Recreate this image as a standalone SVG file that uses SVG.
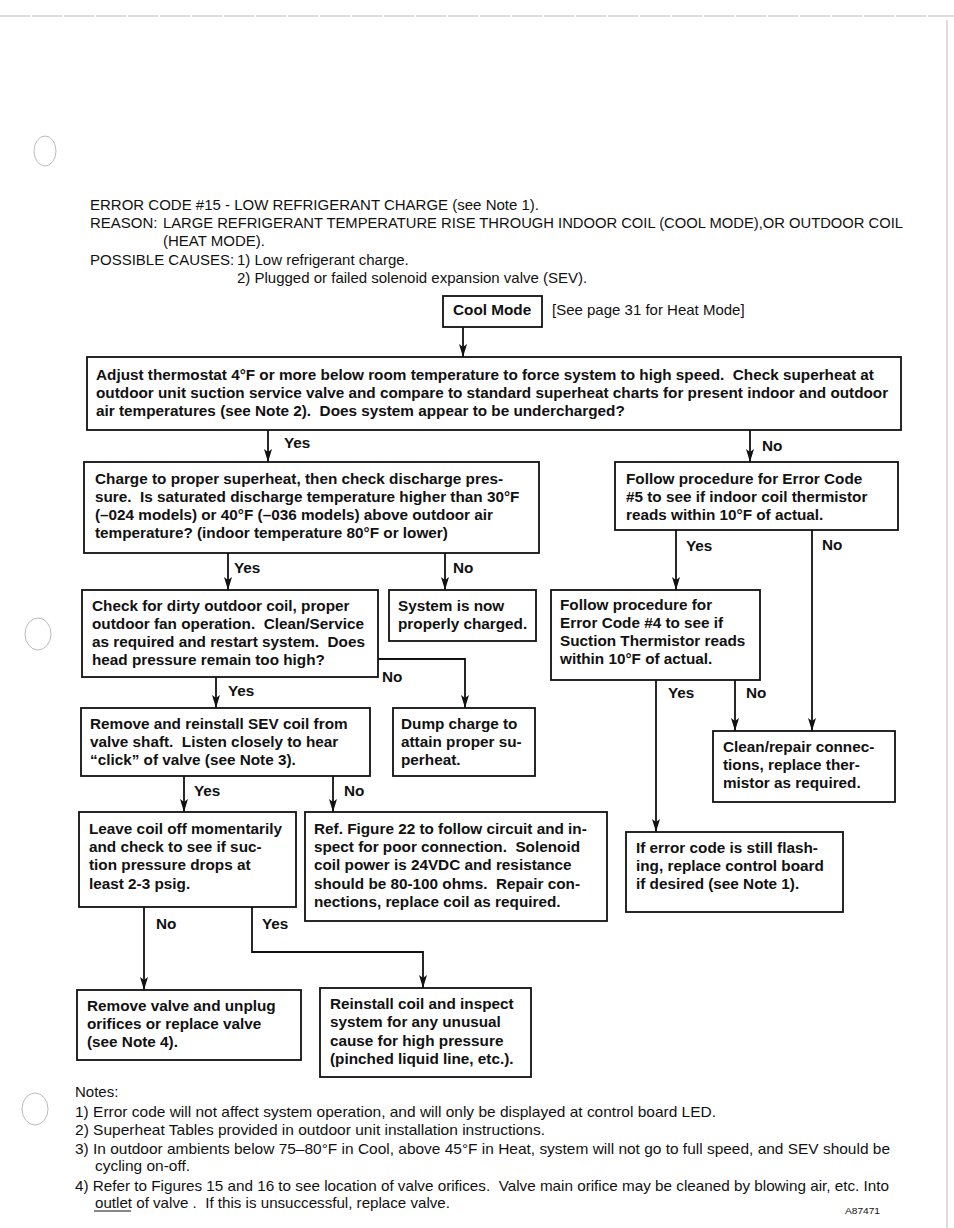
<svg xmlns="http://www.w3.org/2000/svg" width="954" height="1228" viewBox="0 0 954 1228">
<defs>
<marker id="ah" markerWidth="13" markerHeight="8" refX="13" refY="4" orient="auto" markerUnits="userSpaceOnUse" viewBox="0 0 13 8">
<path d="M0,0 L13,4 L0,8 L3,4 Z" fill="#111"/>
</marker>
<style>
.bx{fill:#fff;stroke:#111;stroke-width:1.8}
.t{font-family:"Liberation Sans",Arial,Helvetica,sans-serif;font-weight:bold;font-size:15.3px;fill:#111;white-space:pre}
.h{font-family:"Liberation Sans",Arial,Helvetica,sans-serif;font-size:15px;fill:#111;white-space:pre}
.c{fill:none;stroke:#111;stroke-width:1.8}
.ca{fill:none;stroke:#111;stroke-width:1.8;marker-end:url(#ah)}
.scan{fill:none;stroke:#bbb;stroke-width:1}
</style>
</defs>
<rect width="954" height="1228" fill="#fff"/>
<g id="scan-marks">
<line class="scan" x1="0" y1="16" x2="954" y2="16" stroke-dasharray="30 2"/>
<line class="scan" x1="947" y1="20" x2="947" y2="1228" stroke="#999"/>
<ellipse class="scan" cx="45" cy="151" rx="11" ry="15" stroke="#999"/>
<ellipse class="scan" cx="38" cy="634" rx="13" ry="16" stroke="#999"/>
<ellipse class="scan" cx="35" cy="1109" rx="13" ry="16" stroke="#999"/>
</g>
<g id="header">
<text class="h" x="90" y="210">ERROR CODE #15 - LOW REFRIGERANT CHARGE (see Note 1).</text>
<text class="h" x="90" y="228">REASON:</text>
<text class="h" x="163" y="228" textLength="740" lengthAdjust="spacingAndGlyphs">LARGE REFRIGERANT TEMPERATURE RISE THROUGH INDOOR COIL (COOL MODE),OR OUTDOOR COIL</text>
<text class="h" x="163" y="246">(HEAT MODE).</text>
<text class="h" x="90" y="265">POSSIBLE CAUSES:</text>
<text class="h" x="237" y="265">1) Low refrigerant charge.</text>
<text class="h" x="237" y="283">2) Plugged or failed solenoid expansion valve (SEV).</text>
</g>
<g id="connectors">
<line class="ca" x1="463" y1="327" x2="463" y2="357"/>
<line class="ca" x1="268" y1="430" x2="268" y2="462"/>
<line class="ca" x1="750" y1="430" x2="750" y2="462"/>
<line class="ca" x1="228" y1="553" x2="228" y2="590"/>
<line class="ca" x1="445" y1="553" x2="445" y2="590"/>
<line class="ca" x1="676" y1="530" x2="676" y2="590"/>
<line class="ca" x1="812" y1="530" x2="812" y2="731"/>
<polyline class="ca" points="378,659 465,659 465,708"/>
<line class="ca" x1="216" y1="677" x2="216" y2="708"/>
<line class="ca" x1="656" y1="680" x2="656" y2="832"/>
<line class="ca" x1="735" y1="680" x2="735" y2="731"/>
<line class="ca" x1="184" y1="776" x2="184" y2="812"/>
<line class="ca" x1="333" y1="776" x2="333" y2="812"/>
<line class="ca" x1="144" y1="907" x2="144" y2="990"/>
<polyline class="ca" points="252,907 252,952 423,952 423,988"/>
<text class="t" x="284" y="448">Yes</text>
<text class="t" x="762" y="451">No</text>
<text class="t" x="234" y="573">Yes</text>
<text class="t" x="453" y="573">No</text>
<text class="t" x="686" y="551">Yes</text>
<text class="t" x="822" y="550">No</text>
<text class="t" x="382" y="682">No</text>
<text class="t" x="228" y="696">Yes</text>
<text class="t" x="668" y="698">Yes</text>
<text class="t" x="746" y="698">No</text>
<text class="t" x="194" y="796">Yes</text>
<text class="t" x="344" y="796">No</text>
<text class="t" x="156" y="929">No</text>
<text class="t" x="262" y="929">Yes</text>
</g>
<g id="cool-mode">
<rect class="bx" x="443" y="296" width="99" height="31"/>
<text class="t" x="453" y="315">Cool Mode</text>
<text class="h" x="552" y="315">[See page 31 for Heat Mode]</text>
</g>
<g id="adjust">
<rect class="bx" x="87" y="357" width="814" height="73"/>
<text class="t" x="96" y="380">Adjust thermostat 4°F or more below room temperature to force system to high speed.  Check superheat at</text>
<text class="t" x="96" y="398">outdoor unit suction service valve and compare to standard superheat charts for present indoor and outdoor</text>
<text class="t" x="96" y="416">air temperatures (see Note 2).  Does system appear to be undercharged?</text>
</g>
<g id="charge">
<rect class="bx" x="84" y="462" width="455" height="91"/>
<text class="t" x="95" y="484">Charge to proper superheat, then check discharge pres-</text>
<text class="t" x="95" y="502">sure.  Is saturated discharge temperature higher than 30°F</text>
<text class="t" x="95" y="520">(–024 models) or 40°F (–036 models) above outdoor air</text>
<text class="t" x="95" y="538">temperature? (indoor temperature 80°F or lower)</text>
</g>
<g id="code5">
<rect class="bx" x="615" y="462" width="283" height="68"/>
<text class="t" x="626" y="484">Follow procedure for Error Code</text>
<text class="t" x="626" y="502">#5 to see if indoor coil thermistor</text>
<text class="t" x="626" y="520">reads within 10°F of actual.</text>
</g>
<g id="check-coil">
<rect class="bx" x="82" y="590" width="296" height="87"/>
<text class="t" x="92" y="611">Check for dirty outdoor coil, proper</text>
<text class="t" x="92" y="629">outdoor fan operation.  Clean/Service</text>
<text class="t" x="92" y="647">as required and restart system.  Does</text>
<text class="t" x="92" y="665">head pressure remain too high?</text>
</g>
<g id="charged">
<rect class="bx" x="389" y="590" width="147" height="51"/>
<text class="t" x="398" y="611">System is now</text>
<text class="t" x="398" y="629">properly charged.</text>
</g>
<g id="code4">
<rect class="bx" x="551" y="590" width="209" height="90"/>
<text class="t" x="560" y="610">Follow procedure for</text>
<text class="t" x="560" y="628">Error Code #4 to see if</text>
<text class="t" x="560" y="646">Suction Thermistor reads</text>
<text class="t" x="560" y="664">within 10°F of actual.</text>
</g>
<g id="sev-coil">
<rect class="bx" x="81" y="708" width="289" height="68"/>
<text class="t" x="90" y="729">Remove and reinstall SEV coil from</text>
<text class="t" x="90" y="747">valve shaft.  Listen closely to hear</text>
<text class="t" x="90" y="765">“click” of valve (see Note 3).</text>
</g>
<g id="dump">
<rect class="bx" x="393" y="708" width="142" height="68"/>
<text class="t" x="401" y="729">Dump charge to</text>
<text class="t" x="401" y="747">attain proper su-</text>
<text class="t" x="401" y="765">perheat.</text>
</g>
<g id="clean-repair">
<rect class="bx" x="713" y="731" width="182" height="71"/>
<text class="t" x="723" y="752">Clean/repair connec-</text>
<text class="t" x="723" y="770">tions, replace ther-</text>
<text class="t" x="723" y="788">mistor as required.</text>
</g>
<g id="replace-board">
<rect class="bx" x="626" y="832" width="217" height="80"/>
<text class="t" x="636" y="853">If error code is still flash-</text>
<text class="t" x="636" y="871">ing, replace control board</text>
<text class="t" x="636" y="889">if desired (see Note 1).</text>
</g>
<g id="leave-coil">
<rect class="bx" x="79" y="812" width="217" height="95"/>
<text class="t" x="89" y="834">Leave coil off momentarily</text>
<text class="t" x="89" y="852">and check to see if suc-</text>
<text class="t" x="89" y="870">tion pressure drops at</text>
<text class="t" x="89" y="889">least 2-3 psig.</text>
</g>
<g id="ref-fig22">
<rect class="bx" x="305" y="812" width="302" height="109"/>
<text class="t" x="314" y="834">Ref. Figure 22 to follow circuit and in-</text>
<text class="t" x="314" y="852">spect for poor connection.  Solenoid</text>
<text class="t" x="314" y="870">coil power is 24VDC and resistance</text>
<text class="t" x="314" y="889">should be 80-100 ohms.  Repair con-</text>
<text class="t" x="314" y="907">nections, replace coil as required.</text>
</g>
<g id="remove-valve">
<rect class="bx" x="77" y="990" width="224" height="70"/>
<text class="t" x="87" y="1011">Remove valve and unplug</text>
<text class="t" x="87" y="1029">orifices or replace valve</text>
<text class="t" x="87" y="1047">(see Note 4).</text>
</g>
<g id="reinstall">
<rect class="bx" x="320" y="988" width="211" height="89"/>
<text class="t" x="330" y="1009">Reinstall coil and inspect</text>
<text class="t" x="330" y="1027">system for any unusual</text>
<text class="t" x="330" y="1046">cause for high pressure</text>
<text class="t" x="330" y="1064">(pinched liquid line, etc.).</text>
</g>
<g id="notes">
<text class="h" x="75" y="1097">Notes:</text>
<text class="h" x="75" y="1117" textLength="641" lengthAdjust="spacingAndGlyphs">1) Error code will not affect system operation, and will only be displayed at control board LED.</text>
<text class="h" x="75" y="1135" textLength="470" lengthAdjust="spacingAndGlyphs">2) Superheat Tables provided in outdoor unit installation instructions.</text>
<text class="h" x="75" y="1154" textLength="815" lengthAdjust="spacingAndGlyphs">3) In outdoor ambients below 75–80°F in Cool, above 45°F in Heat, system will not go to full speed, and SEV should be</text>
<text class="h" x="95" y="1171" textLength="95" lengthAdjust="spacingAndGlyphs">cycling on-off.</text>
<text class="h" x="75" y="1191" textLength="814" lengthAdjust="spacingAndGlyphs">4) Refer to Figures 15 and 16 to see location of valve orifices.  Valve main orifice may be cleaned by blowing air, etc. Into</text>
<text class="h" x="95" y="1208" textLength="355" lengthAdjust="spacingAndGlyphs">outlet of valve .  If this is unsuccessful, replace valve.</text>
<line x1="94" y1="1211" x2="131" y2="1211" stroke="#111" stroke-width="1.2"/>
<text class="h" x="845" y="1214" style="font-size:9px" textLength="35" lengthAdjust="spacingAndGlyphs">A87471</text>
</g>
</svg>
